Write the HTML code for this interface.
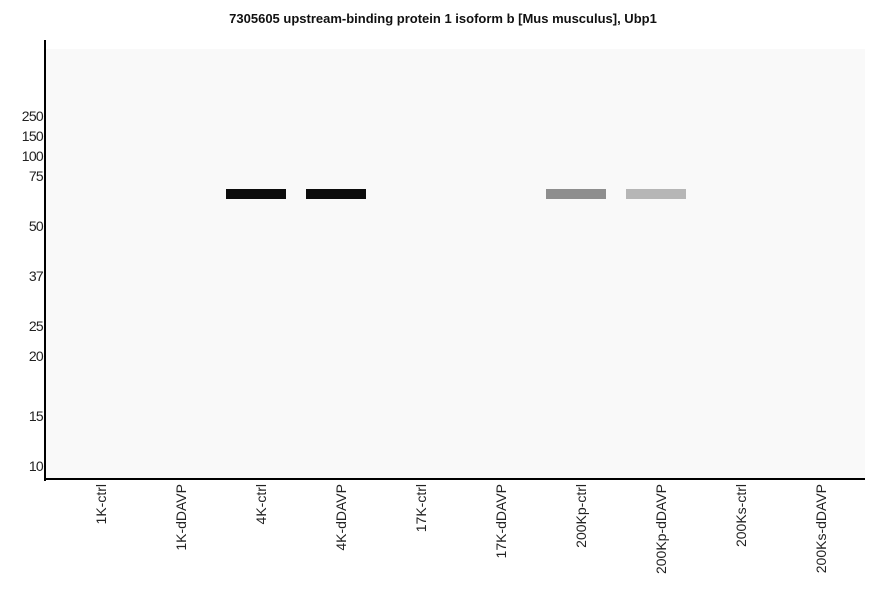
<!DOCTYPE html>
<html><head><style>
body{margin:0;width:886px;height:595px;background:#fff;position:relative;font-family:"Liberation Sans",sans-serif;overflow:hidden}
.a{position:absolute}
.y{position:absolute;right:843px;font-size:14px;color:#222;line-height:14px;letter-spacing:-0.7px}
.x{position:absolute;top:484px;font-size:14px;color:#222;white-space:nowrap;transform-origin:0 0;transform:rotate(-90deg) translateX(-100%);line-height:14px}
.b{position:absolute;top:189px;height:10px;width:60px}
</style></head><body>
<div class="a" style="left:0;width:886px;top:11px;text-align:center;font-size:13px;font-weight:bold;color:#111">7305605 upstream-binding protein 1 isoform b [Mus musculus], Ubp1</div>
<div class="a" style="left:46px;top:49px;width:819px;height:430px;background:#f9f9f9"></div>
<div class="a" style="left:44px;top:40px;width:2px;height:441px;background:#000"></div>
<div class="a" style="left:44px;top:478px;width:821px;height:2px;background:#000"></div>
<div class="y" style="top:109px">250</div>
<div class="y" style="top:129px">150</div>
<div class="y" style="top:149px">100</div>
<div class="y" style="top:169px">75</div>
<div class="y" style="top:219px">50</div>
<div class="y" style="top:269px">37</div>
<div class="y" style="top:319px">25</div>
<div class="y" style="top:349px">20</div>
<div class="y" style="top:409px">15</div>
<div class="y" style="top:459px">10</div>
<div class="b" style="left:226px;background:#0c0c0c"></div>
<div class="b" style="left:306px;background:#0c0c0c"></div>
<div class="b" style="left:546px;background:#8e8e8e"></div>
<div class="b" style="left:626px;background:#b6b6b6"></div>
<div class="x" style="left:94px">1K-ctrl</div>
<div class="x" style="left:174px">1K-dDAVP</div>
<div class="x" style="left:254px">4K-ctrl</div>
<div class="x" style="left:334px">4K-dDAVP</div>
<div class="x" style="left:414px">17K-ctrl</div>
<div class="x" style="left:494px">17K-dDAVP</div>
<div class="x" style="left:574px">200Kp-ctrl</div>
<div class="x" style="left:654px">200Kp-dDAVP</div>
<div class="x" style="left:734px">200Ks-ctrl</div>
<div class="x" style="left:814px">200Ks-dDAVP</div>
</body></html>
